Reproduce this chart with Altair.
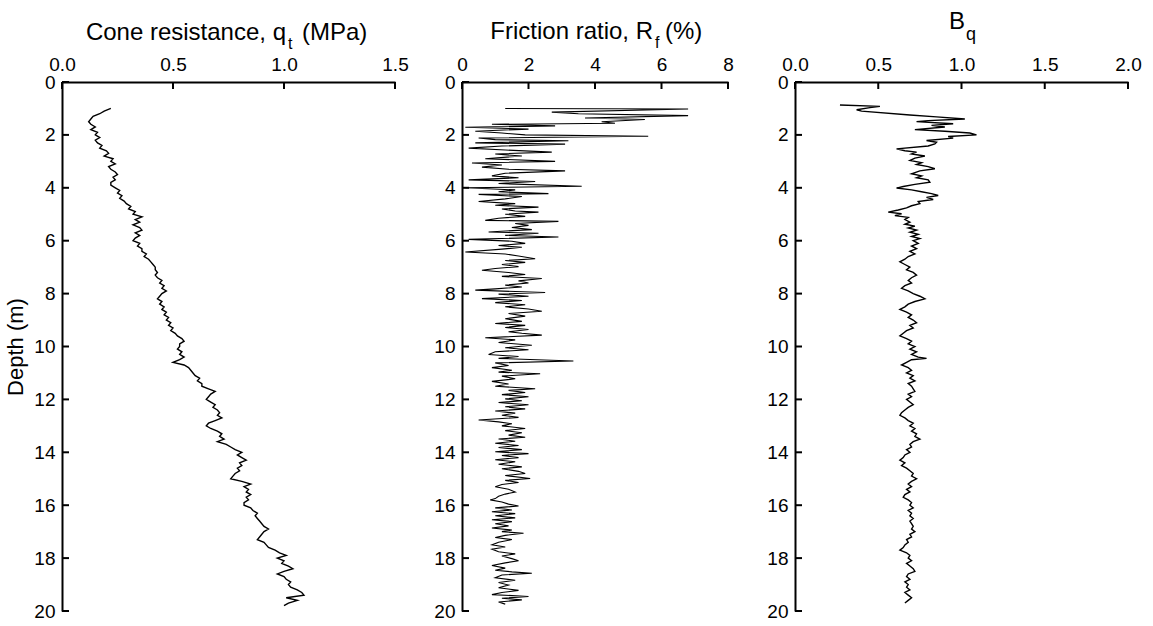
import altair as alt
import pandas as pd

FONT = "Liberation Sans"

DEPTH_TICKS = [0, 2, 4, 6, 8, 10, 12, 14, 16, 18, 20]
QT_TICKS = [0.0, 0.5, 1.0, 1.5]
RF_TICKS = [0, 2, 4, 6, 8]
BQ_TICKS = [0.0, 0.5, 1.0, 1.5, 2.0]

Y_TITLE = "Depth (m)"
QT_TITLE = ["Cone resistance, q", "t", "(MPa)"]
RF_TITLE = ["Friction ratio, R", "f", "(%)"]
BQ_TITLE = ["B", "q"]

qt_depth = [
    1.0, 1.1, 1.2, 1.3, 1.4, 1.5, 1.6, 1.7, 1.8, 1.9,
    2.0, 2.1, 2.2, 2.3, 2.4, 2.5, 2.6, 2.7, 2.8, 2.9,
    3.0, 3.1, 3.2, 3.3, 3.4, 3.5, 3.6, 3.7, 3.8, 3.9,
    4.0, 4.1, 4.2, 4.3, 4.4, 4.5, 4.6, 4.7, 4.8, 4.9,
    5.0, 5.1, 5.2, 5.3, 5.4, 5.5, 5.6, 5.7, 5.8, 5.9,
    6.0, 6.1, 6.2, 6.3, 6.4, 6.5, 6.6, 6.7, 6.8, 6.9,
    7.0, 7.1, 7.2, 7.3, 7.4, 7.5, 7.6, 7.7, 7.8, 7.9,
    8.0, 8.1, 8.2, 8.3, 8.4, 8.5, 8.6, 8.7, 8.8, 8.9,
    9.0, 9.1, 9.2, 9.3, 9.4, 9.5, 9.6, 9.7, 9.8, 9.9,
    10.0, 10.1, 10.2, 10.3, 10.4, 10.5, 10.6, 10.7, 10.8, 10.9,
    11.0, 11.1, 11.2, 11.3, 11.4, 11.5, 11.6, 11.7, 11.8, 11.9,
    12.0, 12.1, 12.2, 12.3, 12.4, 12.5, 12.6, 12.7, 12.8, 12.9,
    13.0, 13.1, 13.2, 13.3, 13.4, 13.5, 13.6, 13.7, 13.8, 13.9,
    14.0, 14.1, 14.2, 14.3, 14.4, 14.5, 14.6, 14.7, 14.8, 14.9,
    15.0, 15.1, 15.2, 15.3, 15.4, 15.5, 15.6, 15.7, 15.8, 15.9,
    16.0, 16.1, 16.2, 16.3, 16.4, 16.5, 16.6, 16.7, 16.8, 16.9,
    17.0, 17.1, 17.2, 17.3, 17.4, 17.5, 17.6, 17.7, 17.8, 17.9,
    18.0, 18.1, 18.2, 18.3, 18.4, 18.5, 18.6, 18.7, 18.8, 18.9,
    19.0, 19.1, 19.2, 19.3, 19.4, 19.5, 19.6, 19.7, 19.8,
]
qt_value = [
    0.22, 0.19, 0.17, 0.14, 0.13, 0.12, 0.13, 0.15, 0.13, 0.16,
    0.15, 0.17, 0.15, 0.16, 0.18, 0.17, 0.20, 0.21, 0.19, 0.23,
    0.22, 0.24, 0.21, 0.22, 0.24, 0.25, 0.23, 0.24, 0.22, 0.22,
    0.24, 0.26, 0.25, 0.27, 0.26, 0.28, 0.29, 0.31, 0.30, 0.33,
    0.32, 0.36, 0.33, 0.35, 0.32, 0.35, 0.36, 0.33, 0.35, 0.33,
    0.32, 0.35, 0.34, 0.36, 0.36, 0.38, 0.37, 0.39, 0.40, 0.41,
    0.42, 0.42, 0.43, 0.42, 0.43, 0.45, 0.44, 0.46, 0.45, 0.47,
    0.45, 0.44, 0.43, 0.45, 0.44, 0.46, 0.45, 0.47, 0.46, 0.48,
    0.47, 0.49, 0.48, 0.50, 0.49, 0.51, 0.52, 0.54, 0.55, 0.53,
    0.53, 0.52, 0.54, 0.53, 0.55, 0.53, 0.50, 0.55, 0.57, 0.58,
    0.59, 0.60, 0.62, 0.61, 0.63, 0.63, 0.66, 0.69, 0.67, 0.66,
    0.65, 0.67, 0.69, 0.68, 0.70, 0.71, 0.70, 0.72, 0.69, 0.66,
    0.65, 0.67, 0.70, 0.72, 0.71, 0.73, 0.70, 0.74, 0.76, 0.78,
    0.81, 0.79, 0.81, 0.83, 0.80, 0.81, 0.79, 0.80, 0.78, 0.77,
    0.76, 0.81, 0.85, 0.82, 0.84, 0.83, 0.85, 0.83, 0.84, 0.82,
    0.82, 0.85, 0.86, 0.88, 0.87, 0.88, 0.89, 0.90, 0.91, 0.93,
    0.91, 0.90, 0.89, 0.88, 0.91, 0.92, 0.93, 0.96, 0.98, 1.01,
    0.97, 1.00, 0.99, 1.02, 1.04, 1.00, 0.97, 1.00, 1.01, 1.03,
    1.02, 1.03, 1.06, 1.08, 1.09, 1.01, 1.06, 1.02, 1.00,
]

rf_depth = [
    1.00, 1.02, 1.14, 1.20, 1.27, 1.36, 1.42, 1.50, 1.56, 1.60,
    1.66, 1.71, 1.78, 1.86, 1.93, 2.00, 2.05, 2.12, 2.18, 2.22,
    2.30, 2.35, 2.42, 2.50, 2.57, 2.65, 2.72, 2.80, 2.90, 3.00,
    3.06, 3.14, 3.22, 3.30, 3.36, 3.45, 3.55, 3.62, 3.70, 3.76,
    3.84, 3.94, 4.00, 4.08, 4.15, 4.22, 4.25, 4.33, 4.42, 4.52,
    4.60, 4.66, 4.73, 4.80, 4.88, 4.92, 5.00, 5.08, 5.15, 5.23,
    5.27, 5.35, 5.42, 5.50, 5.58, 5.67, 5.72, 5.80, 5.86, 5.95,
    6.02, 6.10, 6.18, 6.25, 6.32, 6.43, 6.50, 6.58, 6.68, 6.75,
    6.82, 6.90, 6.98, 7.05, 7.12, 7.20, 7.28, 7.35, 7.43, 7.52,
    7.60, 7.68, 7.75, 7.82, 7.87, 7.96, 8.02, 8.10, 8.19, 8.26,
    8.34, 8.42, 8.50, 8.58, 8.67, 8.75, 8.85, 8.95, 9.05, 9.13,
    9.20, 9.28, 9.36, 9.44, 9.50, 9.57, 9.67, 9.75, 9.85, 9.95,
    10.05, 10.12, 10.20, 10.30, 10.38, 10.45, 10.55, 10.62, 10.72, 10.80,
    10.90, 10.97, 11.03, 11.12, 11.22, 11.32, 11.42, 11.50, 11.60, 11.66,
    11.74, 11.82, 11.90, 11.98, 12.05, 12.12, 12.20, 12.28, 12.36, 12.44,
    12.52, 12.60, 12.68, 12.78, 12.85, 12.92, 13.00, 13.10, 13.18, 13.26,
    13.35, 13.43, 13.50, 13.58, 13.66, 13.74, 13.82, 13.90, 13.98, 14.05,
    14.12, 14.20, 14.28, 14.36, 14.45, 14.55, 14.62, 14.72, 14.80, 14.88,
    14.99, 15.06, 15.14, 15.22, 15.30, 15.40, 15.50, 15.58, 15.66, 15.75,
    15.80, 15.88, 15.96, 16.03, 16.10, 16.18, 16.25, 16.32, 16.40, 16.48,
    16.55, 16.62, 16.70, 16.78, 16.86, 16.94, 17.00, 17.06, 17.14, 17.22,
    17.30, 17.40, 17.50, 17.58, 17.66, 17.76, 17.84, 17.92, 18.02, 18.10,
    18.18, 18.28, 18.38, 18.46, 18.52, 18.57, 18.64, 18.74, 18.84, 18.92,
    19.02, 19.12, 19.22, 19.30, 19.38, 19.45, 19.52, 19.58, 19.66, 19.74,
]
rf_value = [
    1.3, 6.8, 2.7, 3.5, 6.8, 3.7, 5.5, 4.2, 4.6, 0.9,
    2.8, 0.1, 2.0, 0.4, 1.2, 1.9, 5.6, 0.5, 1.0, 3.2,
    0.4, 3.1, 1.2, 0.2, 1.3, 2.7, 1.0, 1.8, 0.7, 2.8,
    0.3, 1.2, 0.6, 1.4, 3.1, 1.3, 0.9, 1.7, 0.2, 2.2,
    1.1, 3.6, 0.1, 1.6, 1.1, 2.6, 0.5, 1.8, 1.3, 0.5,
    1.6, 1.0, 2.3, 1.2, 1.6, 2.3, 1.3, 1.9, 1.1, 0.7,
    2.9, 1.6, 2.0, 1.5, 2.1, 0.8, 2.3, 1.3, 2.9, 0.2,
    1.5, 1.9, 1.1, 1.8, 1.2, 0.1, 1.3, 1.7, 2.2, 1.3,
    1.9, 1.2, 1.7, 1.0, 0.6, 1.4, 1.9, 1.2, 2.4, 1.7,
    2.0, 1.3, 1.8, 1.0, 0.4, 2.5, 1.1, 2.0, 0.6, 1.8,
    1.0, 1.9, 1.3, 2.0, 2.4, 1.4, 1.9, 1.3, 1.8, 1.0,
    1.9, 1.3, 2.0, 1.4, 1.8, 2.4, 0.7, 1.6, 1.1, 2.1,
    1.3, 2.0, 1.0, 0.8, 1.7, 1.1, 3.35, 1.0, 1.4, 0.9,
    1.5, 1.1, 2.35, 1.2, 1.6, 0.9, 1.4, 1.0, 2.2, 1.4,
    1.9, 1.2, 2.0, 1.3, 1.8, 1.1, 2.0, 1.3, 1.9, 1.0,
    1.6, 1.2, 1.7, 0.5, 1.1, 1.5, 1.2, 1.9, 1.3, 1.8,
    1.4, 1.9, 1.1, 1.6, 1.0, 1.7, 1.1, 1.8, 1.0, 2.0,
    1.2, 1.7, 1.0, 1.6, 1.1, 1.8, 1.2, 1.7, 1.9, 1.3,
    2.05, 1.3, 1.7, 1.2, 1.0, 1.4, 1.6, 1.3, 1.1, 1.0,
    0.85, 1.2, 1.4, 1.7, 1.0, 1.5, 0.9, 1.6, 1.0, 1.6,
    0.9, 1.5, 1.0, 1.4, 0.9, 1.5, 1.2, 1.85, 1.3, 1.0,
    1.5, 1.1, 0.9, 1.3, 0.9, 1.1, 1.6, 1.2, 1.5, 1.7,
    1.3, 0.9, 1.3, 1.0, 1.5, 2.1, 1.2, 1.0, 1.6, 1.1,
    1.4, 1.1, 1.7, 1.2, 0.9, 2.0, 1.2, 1.8, 1.1, 1.3,
]

bq_depth = [
    0.87, 0.92, 0.97, 1.05, 1.10, 1.25, 1.32, 1.40, 1.46, 1.50,
    1.58, 1.64, 1.70, 1.80, 1.86, 1.93, 2.00, 2.06, 2.12, 2.21,
    2.28, 2.34, 2.42, 2.53, 2.60, 2.65, 2.72, 2.80, 2.88, 2.97,
    3.05, 3.12, 3.20, 3.28, 3.36, 3.47, 3.55, 3.62, 3.70, 3.79,
    3.87, 3.95, 4.01, 4.08, 4.15, 4.22, 4.29, 4.36, 4.44, 4.52,
    4.60, 4.68, 4.76, 4.84, 4.92, 4.98, 5.05, 5.12, 5.20, 5.30,
    5.38, 5.45, 5.52, 5.60, 5.68, 5.76, 5.84, 5.92, 6.00, 6.1,
    6.2, 6.3, 6.4, 6.5, 6.6, 6.7, 6.8, 6.9, 7.0, 7.1,
    7.2, 7.3, 7.4, 7.5, 7.6, 7.7, 7.8, 7.9, 8.0, 8.1,
    8.2, 8.3, 8.4, 8.5, 8.6, 8.7, 8.8, 8.9, 9.0, 9.1,
    9.2, 9.3, 9.4, 9.5, 9.6, 9.7, 9.8, 9.9, 10.0, 10.1,
    10.2, 10.3, 10.4, 10.45, 10.5, 10.6, 10.7, 10.8, 10.9, 11.0,
    11.1, 11.2, 11.3, 11.4, 11.5, 11.6, 11.7, 11.8, 11.9, 12.0,
    12.1, 12.2, 12.3, 12.4, 12.5, 12.6, 12.7, 12.8, 12.9, 13.0,
    13.1, 13.2, 13.3, 13.4, 13.5, 13.6, 13.7, 13.8, 13.9, 14.0,
    14.1, 14.2, 14.3, 14.4, 14.5, 14.6, 14.7, 14.8, 14.9, 15.0,
    15.1, 15.2, 15.3, 15.4, 15.5, 15.6, 15.7, 15.8, 15.9, 16.0,
    16.1, 16.2, 16.3, 16.4, 16.5, 16.6, 16.7, 16.8, 16.9, 17.0,
    17.1, 17.2, 17.3, 17.4, 17.5, 17.6, 17.7, 17.8, 17.9, 18.0,
    18.1, 18.2, 18.3, 18.4, 18.5, 18.6, 18.7, 18.8, 18.9, 19.0,
    19.1, 19.2, 19.3, 19.4, 19.5, 19.6, 19.7,
]
bq_value = [
    0.27, 0.51, 0.45, 0.37, 0.40, 0.69, 0.85, 1.02, 0.80, 0.73,
    0.95, 0.82, 0.90, 0.72, 0.90, 1.05, 1.09, 0.92, 0.95, 0.79,
    0.85, 0.84, 0.80, 0.61, 0.66, 0.73, 0.70, 0.78, 0.72, 0.69,
    0.76, 0.73, 0.80, 0.84, 0.75, 0.70, 0.76, 0.73, 0.80, 0.81,
    0.72, 0.65, 0.61, 0.70, 0.76, 0.82, 0.86, 0.79, 0.83, 0.74,
    0.75, 0.70, 0.67, 0.62, 0.56, 0.64, 0.60, 0.68, 0.66, 0.69,
    0.66, 0.72, 0.68, 0.73, 0.69, 0.74, 0.70, 0.75, 0.71, 0.74,
    0.70, 0.73, 0.69, 0.72, 0.68, 0.66, 0.63, 0.66, 0.69, 0.67,
    0.71, 0.73, 0.70, 0.68, 0.70, 0.66, 0.64, 0.68, 0.71, 0.75,
    0.78, 0.72, 0.68, 0.66, 0.63, 0.67, 0.70, 0.68, 0.71, 0.73,
    0.69, 0.71, 0.67, 0.65, 0.63, 0.67, 0.70, 0.68, 0.72, 0.69,
    0.73, 0.70, 0.74, 0.79, 0.70, 0.67, 0.64, 0.68, 0.70, 0.67,
    0.71, 0.69, 0.72, 0.68, 0.70, 0.71, 0.72, 0.68, 0.70, 0.67,
    0.69, 0.71, 0.68, 0.66, 0.64, 0.63, 0.66, 0.68, 0.71, 0.69,
    0.72, 0.70, 0.73, 0.72, 0.75, 0.71, 0.69, 0.70, 0.67, 0.69,
    0.66, 0.65, 0.63, 0.66, 0.64, 0.67, 0.69, 0.71, 0.70, 0.73,
    0.70, 0.68, 0.70, 0.67, 0.69, 0.66, 0.65, 0.68, 0.70, 0.69,
    0.71, 0.68, 0.70, 0.69, 0.71, 0.69, 0.70, 0.71, 0.70, 0.72,
    0.69, 0.70, 0.67, 0.68, 0.66, 0.65, 0.63, 0.67, 0.69, 0.68,
    0.70, 0.67, 0.69, 0.71, 0.72, 0.68, 0.67, 0.69, 0.66, 0.68,
    0.67, 0.69, 0.66, 0.68, 0.70, 0.68, 0.66,
]

PLOT_H = 529


def panel(depths, values, xticks, xfmt, xmax, width, title_marks, ytitle, stroke):
    xenc = alt.X(
        "value:Q",
        scale=alt.Scale(domain=[0, xmax], nice=False, zero=False),
        axis=alt.Axis(
            orient="top", values=xticks, format=xfmt, title=None, grid=False,
            ticks=False, labelPadding=8, labelFontSize=19, labelFont=FONT,
            labelColor="black", domainColor="black", domainWidth=2,
            labelFlush=False, labelOverlap=False,
        ),
    )
    yaxis_kwargs = dict(
        values=DEPTH_TICKS, format="d", grid=False, ticks=False, labelPadding=7,
        labelFontSize=19, labelFont=FONT, labelColor="black",
        domainColor="black", domainWidth=2, labelFlush=False, labelOverlap=False,
    )
    if ytitle:
        yaxis_kwargs.update(title=ytitle, titleFont=FONT, titleFontSize=22,
                            titleFontWeight="normal", titleColor="black",
                            titlePadding=6)
    else:
        yaxis_kwargs.update(title=None)
    yenc = alt.Y(
        "depth:Q",
        scale=alt.Scale(domain=[0, 20], reverse=True, nice=False, zero=False),
        axis=alt.Axis(**yaxis_kwargs),
    )
    df = pd.DataFrame({"depth": depths, "value": values})
    line = alt.Chart(df).mark_line(color="black", strokeWidth=stroke).encode(
        x=xenc, y=yenc, order=alt.Order("depth:Q")
    )
    ytick = alt.Chart(pd.DataFrame({"depth": DEPTH_TICKS})).mark_rule(
        color="black", strokeWidth=2
    ).encode(y=yenc, x=alt.value(0), x2=alt.value(7))
    xtick = alt.Chart(pd.DataFrame({"value": xticks})).mark_rule(
        color="black", strokeWidth=2
    ).encode(x=xenc, y=alt.value(0), y2=alt.value(7))
    texts = []
    for txt, px, py, size, align in title_marks:
        texts.append(
            alt.Chart(pd.DataFrame({"t": [txt]})).mark_text(
                align=align, baseline="alphabetic", fontSize=size, font=FONT,
                color="black",
            ).encode(text="t:N", x=alt.value(px), y=alt.value(py))
        )
    return alt.layer(line, ytick, xtick, *texts).properties(width=width, height=PLOT_H)


p1 = panel(qt_depth, qt_value, QT_TICKS, ".1f", 1.5, 333, [
    (QT_TITLE[0], 224, -42, 24, "right"),
    (QT_TITLE[1], 226, -33, 16, "left"),
    (QT_TITLE[2], 240, -42, 24, "left"),
], Y_TITLE, 1.4)
p2 = panel(rf_depth, rf_value, RF_TICKS, "d", 8, 266, [
    (RF_TITLE[0], 191, -43, 24, "right"),
    (RF_TITLE[1], 193, -34, 16, "left"),
    (RF_TITLE[2], 203, -43, 24, "left"),
], None, 1.1)
p3 = panel(bq_depth, bq_value, BQ_TICKS, ".1f", 2.0, 333, [
    (BQ_TITLE[0], 170, -53, 24, "right"),
    (BQ_TITLE[1], 171, -42, 18, "left"),
], None, 1.4)

chart = alt.hconcat(p1, p2, p3, spacing=67, bounds="flush").configure_view(
    stroke=None
).properties(
    padding={"left": 4, "top": 10, "right": 5, "bottom": 5},
    background="white",
)

chart.save("out.html", embed_options={"renderer": "svg", "actions": False})
